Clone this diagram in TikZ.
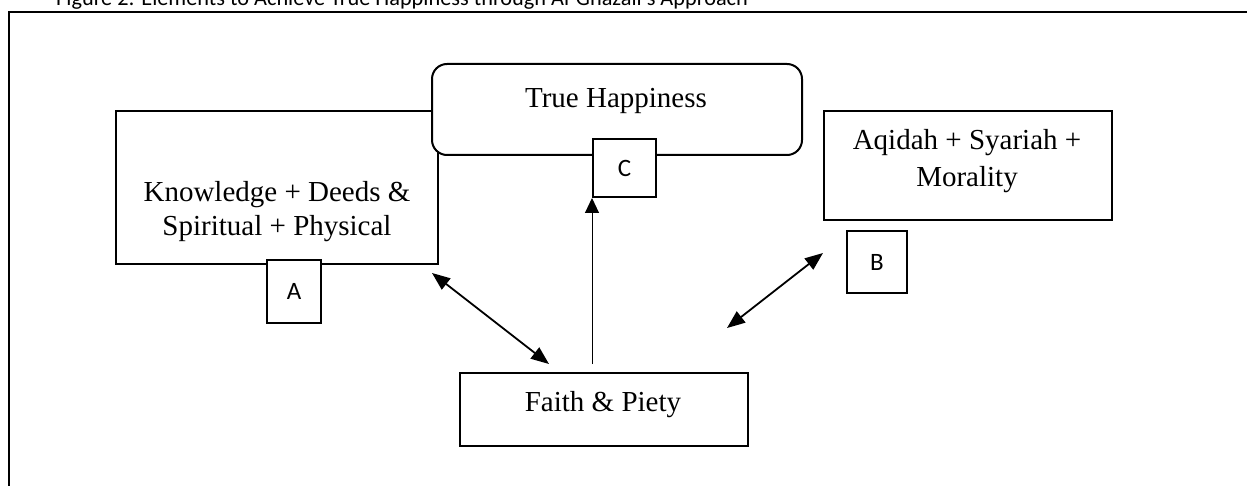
\documentclass[tikz,border=0pt]{standalone}
\usepackage{fontspec}
\setmainfont{Liberation Serif}
\newfontfamily\calibri{Carlito}
\usetikzlibrary{arrows.meta}
\begin{document}
\begin{tikzpicture}[x=1pt,y=-1pt,
  box/.style={draw, line width=2pt, fill=white, inner sep=0pt, anchor=north west},
  lab/.style={box, font=\calibri\fontsize{25}{30}\selectfont},
  txt/.style={font=\fontsize{29}{34}\selectfont, align=center, inner sep=0pt},
  dbl/.style={line width=1.8pt, {Triangle[length=18pt,width=14pt]}-{Triangle[length=18pt,width=14pt]}},
  up/.style={line width=1pt, -{Triangle[length=15pt,width=14pt]}}]
\useasboundingbox (0,0) rectangle (1247,486);
% outer frame (cut off)
\draw[line width=2pt] (9,486) -- (9,12) -- (1247,12);
\node[anchor=base west, font=\calibri\fontsize{22.3}{26}\selectfont, inner sep=0pt] (title) at (56,6) {Figure 2: Elements to Achieve True Happiness through Al-Ghazali's Approach};
% boxes
\node[box, minimum width=322pt, minimum height=153pt] (know) at (115,110) {};
\node[txt] (knowtxt) at (277,212) {Knowledge + Deeds \&\\Spiritual + Physical};
\node[box, rounded corners=15pt, minimum width=370pt, minimum height=91pt] (happy) at (431,63) {};
\node[txt, anchor=base] (happytxt) at (616,108) {True Happiness};
\node[lab, minimum width=63pt, minimum height=58pt] (C) at (592,138) {C};
\node[box, minimum width=288pt, minimum height=109pt] (aqi) at (823,110) {};
\node[txt, font=\fontsize{29}{37}\selectfont] (aqitxt) at (967,161) {Aqidah + Syariah +\\Morality};
\node[lab, minimum width=60pt, minimum height=62pt] (B) at (846,230) {B};
\node[lab, minimum width=54pt, minimum height=63pt] (A) at (266,259) {A};
\node[box, minimum width=288pt, minimum height=73pt] (faith) at (459,372) {};
\node[txt, anchor=base] (faithtxt) at (603,411) {Faith \& Piety};
% connectors
\coordinate (l1) at (432,273);
\coordinate (l2) at (549,364);
\coordinate (r1) at (823,253);
\coordinate (r2) at (727,328);
\coordinate (v1) at (592,364);
\draw[dbl] (l1) -- (l2);
\draw[dbl] (r1) -- (r2);
\draw[up] (v1) -- (v1 |- C.south);
\end{tikzpicture}
\end{document}
